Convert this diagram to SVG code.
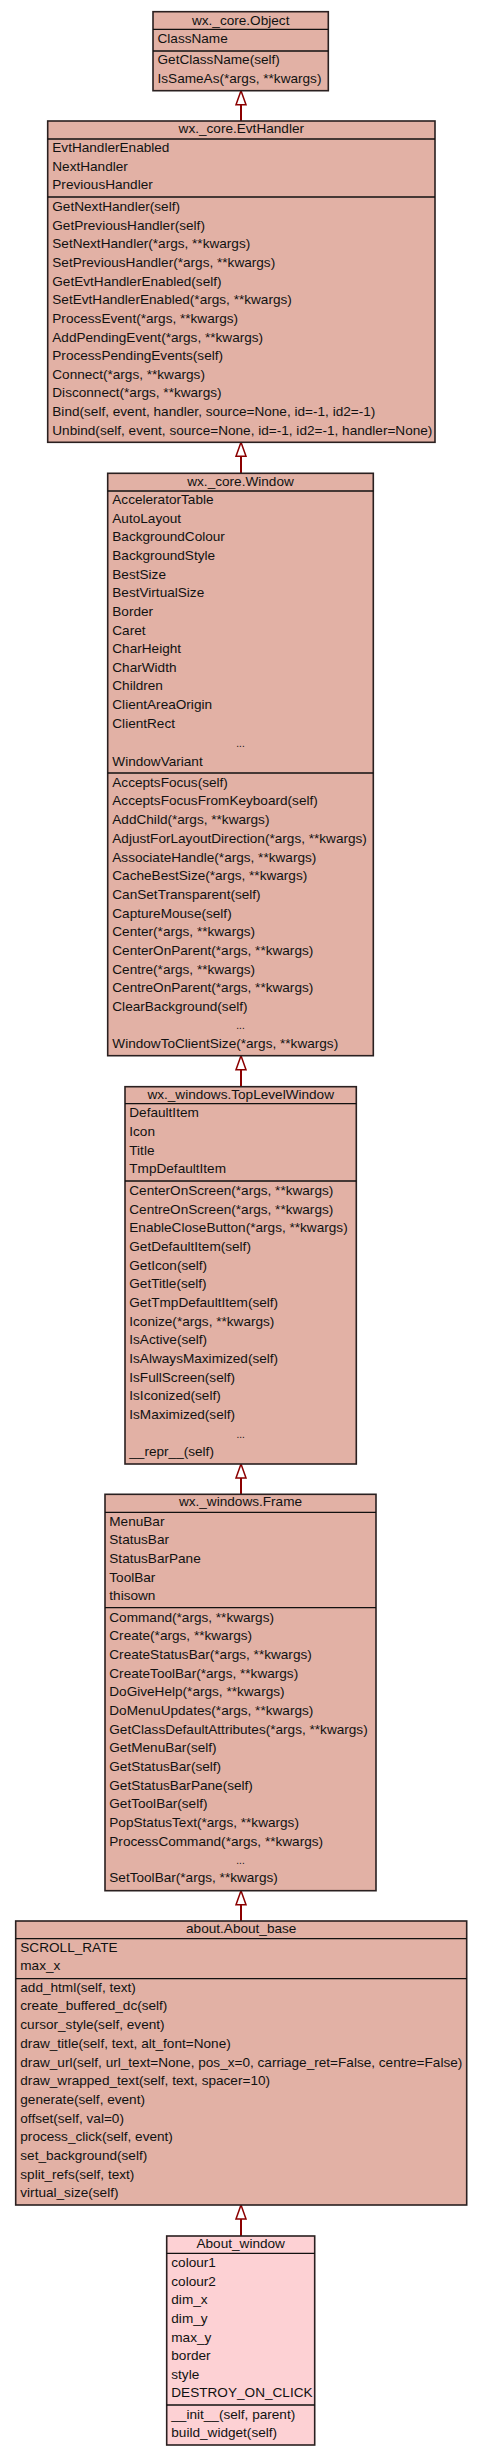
<svg xmlns="http://www.w3.org/2000/svg" width="483" height="2456" viewBox="0 0 483 2456">
<style>
.box{fill:#e2b1a5;stroke:#2a2020;stroke-width:1.6}
.leaf{fill:#fdd1d4;stroke:#2a2020;stroke-width:1.6}
.sep{stroke:#111;stroke-width:1.3}
text{font-family:"Liberation Sans",Arial,sans-serif;font-size:13.6px;fill:#111}
.ttl{text-anchor:middle}
.dots{text-anchor:middle;font-size:10px}
.edge{stroke:#8b0000;stroke-width:2;fill:none}
</style>
<defs>
<marker id="inh" markerUnits="userSpaceOnUse" markerWidth="14" markerHeight="10" viewBox="0 0 14 10" refX="0" refY="5" orient="auto" overflow="visible">
<path d="M0,0 L14,5 L0,10 Z" fill="#fff" stroke="#8b0000" stroke-width="1.5"/>
</marker>
</defs>
<rect x="0" y="0" width="483" height="2456" fill="#fff"/>
<g id="connectors">
<line class="edge" x1="241" y1="121" x2="241" y2="104.7" marker-end="url(#inh)"/>
<line class="edge" x1="241" y1="473.3" x2="241" y2="456.3" marker-end="url(#inh)"/>
<line class="edge" x1="241" y1="1086.7" x2="241" y2="1069.7" marker-end="url(#inh)"/>
<line class="edge" x1="241" y1="1494.3" x2="241" y2="1478" marker-end="url(#inh)"/>
<line class="edge" x1="241" y1="1921" x2="241" y2="1904.7" marker-end="url(#inh)"/>
<line class="edge" x1="241" y1="2236" x2="241" y2="2219" marker-end="url(#inh)"/>
</g>
<g id="Object">
<rect class="box" x="153" y="11.7" width="175.3" height="79"/>
<line class="sep" x1="153" y1="29.3" x2="328.3" y2="29.3"/>
<line class="sep" x1="153" y1="51" x2="328.3" y2="51"/>
<text class="ttl" x="240.7" y="24.5">wx._core.Object</text>
<text x="157.5" y="42.7">ClassName</text>
<text x="157.5" y="64.2">GetClassName(self)</text>
<text x="157.5" y="83">IsSameAs(*args, **kwargs)</text>
</g>
<g id="EvtHandler">
<rect class="box" x="47.7" y="121" width="387.3" height="321.3"/>
<line class="sep" x1="47.7" y1="139" x2="435" y2="139"/>
<line class="sep" x1="47.7" y1="197" x2="435" y2="197"/>
<text class="ttl" x="241.3" y="133">wx._core.EvtHandler</text>
<text x="52.3" y="152">EvtHandlerEnabled</text>
<text x="52.3" y="170.7">NextHandler</text>
<text x="52.3" y="189.4">PreviousHandler</text>
<text x="52.3" y="211">GetNextHandler(self)</text>
<text x="52.3" y="229.6">GetPreviousHandler(self)</text>
<text x="52.3" y="248.3">SetNextHandler(*args, **kwargs)</text>
<text x="52.3" y="266.9">SetPreviousHandler(*args, **kwargs)</text>
<text x="52.3" y="285.6">GetEvtHandlerEnabled(self)</text>
<text x="52.3" y="304.2">SetEvtHandlerEnabled(*args, **kwargs)</text>
<text x="52.3" y="322.8">ProcessEvent(*args, **kwargs)</text>
<text x="52.3" y="341.5">AddPendingEvent(*args, **kwargs)</text>
<text x="52.3" y="360.1">ProcessPendingEvents(self)</text>
<text x="52.3" y="378.8">Connect(*args, **kwargs)</text>
<text x="52.3" y="397.4">Disconnect(*args, **kwargs)</text>
<text x="52.3" y="416">Bind(self, event, handler, source=None, id=-1, id2=-1)</text>
<text x="52.3" y="434.7">Unbind(self, event, source=None, id=-1, id2=-1, handler=None)</text>
</g>
<g id="Window">
<rect class="box" x="107.7" y="473.3" width="265.6" height="582.4"/>
<line class="sep" x1="107.7" y1="491" x2="373.3" y2="491"/>
<line class="sep" x1="107.7" y1="773" x2="373.3" y2="773"/>
<text class="ttl" x="240.5" y="485.5">wx._core.Window</text>
<text x="112.3" y="504">AcceleratorTable</text>
<text x="112.3" y="522.6">AutoLayout</text>
<text x="112.3" y="541.3">BackgroundColour</text>
<text x="112.3" y="559.9">BackgroundStyle</text>
<text x="112.3" y="578.6">BestSize</text>
<text x="112.3" y="597.2">BestVirtualSize</text>
<text x="112.3" y="615.8">Border</text>
<text x="112.3" y="634.5">Caret</text>
<text x="112.3" y="653.1">CharHeight</text>
<text x="112.3" y="671.8">CharWidth</text>
<text x="112.3" y="690.4">Children</text>
<text x="112.3" y="709">ClientAreaOrigin</text>
<text x="112.3" y="727.7">ClientRect</text>
<text class="dots" x="240.5" y="746.5">...</text>
<text x="112.3" y="766">WindowVariant</text>
<text x="112.3" y="786.7">AcceptsFocus(self)</text>
<text x="112.3" y="805.4">AcceptsFocusFromKeyboard(self)</text>
<text x="112.3" y="824.1">AddChild(*args, **kwargs)</text>
<text x="112.3" y="842.8">AdjustForLayoutDirection(*args, **kwargs)</text>
<text x="112.3" y="861.5">AssociateHandle(*args, **kwargs)</text>
<text x="112.3" y="880.2">CacheBestSize(*args, **kwargs)</text>
<text x="112.3" y="898.8">CanSetTransparent(self)</text>
<text x="112.3" y="917.5">CaptureMouse(self)</text>
<text x="112.3" y="936.2">Center(*args, **kwargs)</text>
<text x="112.3" y="954.9">CenterOnParent(*args, **kwargs)</text>
<text x="112.3" y="973.6">Centre(*args, **kwargs)</text>
<text x="112.3" y="992.3">CentreOnParent(*args, **kwargs)</text>
<text x="112.3" y="1011">ClearBackground(self)</text>
<text class="dots" x="240.5" y="1029">...</text>
<text x="112.3" y="1047.7">WindowToClientSize(*args, **kwargs)</text>
</g>
<g id="TopLevelWindow">
<rect class="box" x="125" y="1086.7" width="231.3" height="377.3"/>
<line class="sep" x1="125" y1="1103.7" x2="356.3" y2="1103.7"/>
<line class="sep" x1="125" y1="1181" x2="356.3" y2="1181"/>
<text class="ttl" x="240.7" y="1098.5">wx._windows.TopLevelWindow</text>
<text x="129.3" y="1117.3">DefaultItem</text>
<text x="129.3" y="1136">Icon</text>
<text x="129.3" y="1154.7">Title</text>
<text x="129.3" y="1173.3">TmpDefaultItem</text>
<text x="129.3" y="1195">CenterOnScreen(*args, **kwargs)</text>
<text x="129.3" y="1213.7">CentreOnScreen(*args, **kwargs)</text>
<text x="129.3" y="1232.3">EnableCloseButton(*args, **kwargs)</text>
<text x="129.3" y="1251">GetDefaultItem(self)</text>
<text x="129.3" y="1269.7">GetIcon(self)</text>
<text x="129.3" y="1288.4">GetTitle(self)</text>
<text x="129.3" y="1307">GetTmpDefaultItem(self)</text>
<text x="129.3" y="1325.7">Iconize(*args, **kwargs)</text>
<text x="129.3" y="1344.4">IsActive(self)</text>
<text x="129.3" y="1363">IsAlwaysMaximized(self)</text>
<text x="129.3" y="1381.7">IsFullScreen(self)</text>
<text x="129.3" y="1400.4">IsIconized(self)</text>
<text x="129.3" y="1419">IsMaximized(self)</text>
<text class="dots" x="240.7" y="1437.5">...</text>
<text x="129.3" y="1456">__repr__(self)</text>
</g>
<g id="Frame">
<rect class="box" x="105" y="1494.3" width="271" height="396.4"/>
<line class="sep" x1="105" y1="1512.3" x2="376" y2="1512.3"/>
<line class="sep" x1="105" y1="1607.7" x2="376" y2="1607.7"/>
<text class="ttl" x="240.5" y="1506">wx._windows.Frame</text>
<text x="109.3" y="1525.7">MenuBar</text>
<text x="109.3" y="1544.3">StatusBar</text>
<text x="109.3" y="1562.9">StatusBarPane</text>
<text x="109.3" y="1581.5">ToolBar</text>
<text x="109.3" y="1600.1">thisown</text>
<text x="109.3" y="1621.7">Command(*args, **kwargs)</text>
<text x="109.3" y="1640.4">Create(*args, **kwargs)</text>
<text x="109.3" y="1659">CreateStatusBar(*args, **kwargs)</text>
<text x="109.3" y="1677.7">CreateToolBar(*args, **kwargs)</text>
<text x="109.3" y="1696.4">DoGiveHelp(*args, **kwargs)</text>
<text x="109.3" y="1715.1">DoMenuUpdates(*args, **kwargs)</text>
<text x="109.3" y="1733.7">GetClassDefaultAttributes(*args, **kwargs)</text>
<text x="109.3" y="1752.4">GetMenuBar(self)</text>
<text x="109.3" y="1771.1">GetStatusBar(self)</text>
<text x="109.3" y="1789.7">GetStatusBarPane(self)</text>
<text x="109.3" y="1808.4">GetToolBar(self)</text>
<text x="109.3" y="1827.1">PopStatusText(*args, **kwargs)</text>
<text x="109.3" y="1845.7">ProcessCommand(*args, **kwargs)</text>
<text class="dots" x="240.5" y="1863.5">...</text>
<text x="109.3" y="1882.3">SetToolBar(*args, **kwargs)</text>
</g>
<g id="About_base">
<rect class="box" x="15.7" y="1921" width="451" height="284"/>
<line class="sep" x1="15.7" y1="1938.7" x2="466.7" y2="1938.7"/>
<line class="sep" x1="15.7" y1="1978.7" x2="466.7" y2="1978.7"/>
<text class="ttl" x="241.2" y="1933">about.About_base</text>
<text x="20.3" y="1951.7">SCROLL_RATE</text>
<text x="20.3" y="1970.4">max_x</text>
<text x="20.3" y="1991.7">add_html(self, text)</text>
<text x="20.3" y="2010.4">create_buffered_dc(self)</text>
<text x="20.3" y="2029.1">cursor_style(self, event)</text>
<text x="20.3" y="2047.8">draw_title(self, text, alt_font=None)</text>
<text x="20.3" y="2066.5">draw_url(self, url_text=None, pos_x=0, carriage_ret=False, centre=False)</text>
<text x="20.3" y="2085.2">draw_wrapped_text(self, text, spacer=10)</text>
<text x="20.3" y="2103.8">generate(self, event)</text>
<text x="20.3" y="2122.5">offset(self, val=0)</text>
<text x="20.3" y="2141.2">process_click(self, event)</text>
<text x="20.3" y="2159.9">set_background(self)</text>
<text x="20.3" y="2178.6">split_refs(self, text)</text>
<text x="20.3" y="2197.3">virtual_size(self)</text>
</g>
<g id="About_window">
<rect class="leaf" x="166.7" y="2236" width="148" height="209"/>
<line class="sep" x1="166.7" y1="2253.3" x2="314.7" y2="2253.3"/>
<line class="sep" x1="166.7" y1="2405" x2="314.7" y2="2405"/>
<text class="ttl" x="240.7" y="2248">About_window</text>
<text x="171.3" y="2267.3">colour1</text>
<text x="171.3" y="2285.9">colour2</text>
<text x="171.3" y="2304.4">dim_x</text>
<text x="171.3" y="2323">dim_y</text>
<text x="171.3" y="2341.6">max_y</text>
<text x="171.3" y="2360.2">border</text>
<text x="171.3" y="2378.7">style</text>
<text x="171.3" y="2397.3">DESTROY_ON_CLICK</text>
<text x="171.3" y="2418.7">__init__(self, parent)</text>
<text x="171.3" y="2437.3">build_widget(self)</text>
</g>
</svg>
